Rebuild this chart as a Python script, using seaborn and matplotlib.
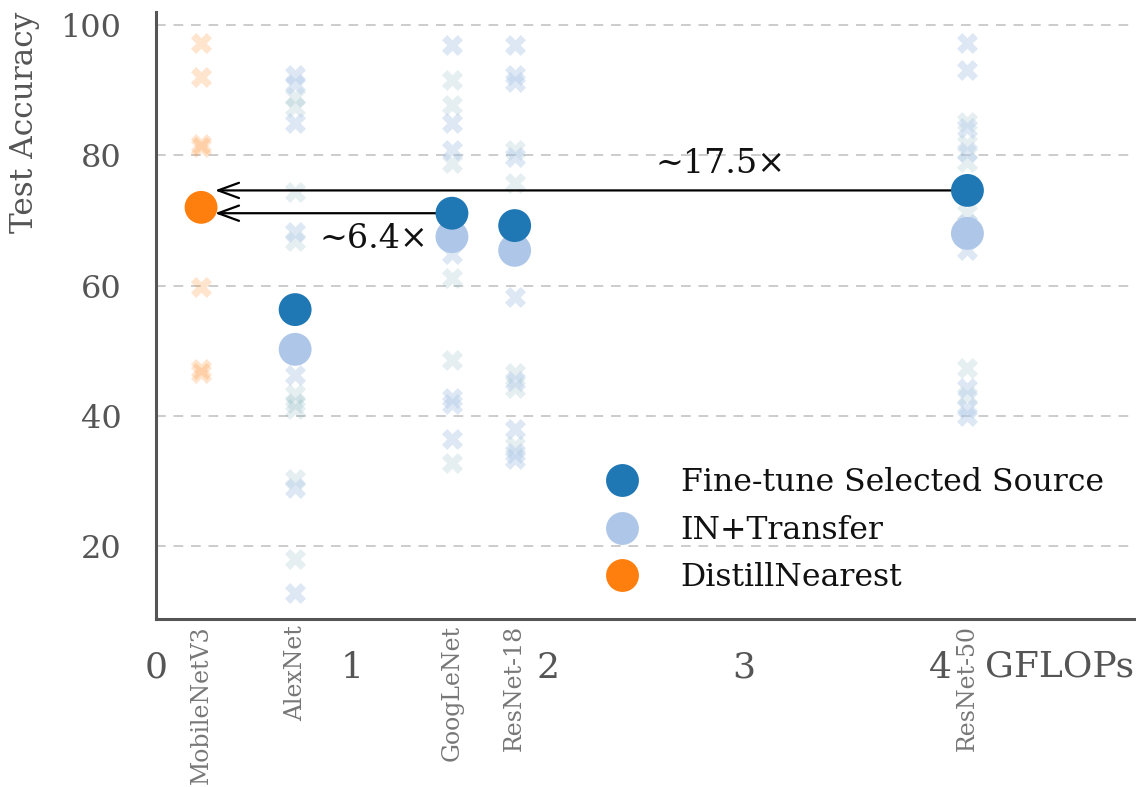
import matplotlib
matplotlib.use("Agg")
import matplotlib.pyplot as plt
import matplotlib.transforms as mtransforms
import pandas as pd
import seaborn as sns

# Target architectures and their compute cost
models = ["MobileNetV3", "AlexNet", "GoogLeNet", "ResNet-18", "ResNet-50"]
gflops = [0.23, 0.71, 1.51, 1.83, 4.14]

# Headline accuracies per method (MobileNetV3 is the distilled student)
finetune_models = ["AlexNet", "GoogLeNet", "ResNet-18", "ResNet-50"]
finetune_acc = [56.3, 71.1, 69.2, 74.6]
in_transfer_acc = [50.2, 67.5, 65.4, 68.0]
distill_model = "MobileNetV3"
distill_acc = 72.0

# Accuracies obtained from individual source models (faint crosses)
src_mobilenet = [97.2, 92.0, 81.8, 81.2, 59.7, 47.2, 46.5]
src_alexnet_a = [88.9, 87.4, 74.3, 66.9, 43.4, 42.0, 41.1, 30.3, 18.0]
src_alexnet_b = [92.3, 91.0, 84.9, 68.2, 46.2, 28.9, 12.8]
src_googlenet_a = [91.5, 87.7, 78.8, 61.2, 48.5, 32.8]
src_googlenet_b = [96.9, 84.9, 80.8, 64.9, 42.8, 41.8, 36.5]
src_resnet18_a = [80.8, 75.8, 44.3, 46.6, 35.4]
src_resnet18_b = [96.9, 92.3, 91.2, 79.7, 58.2, 45.4, 38.0, 34.3, 33.4]
src_resnet50_a = [85.1, 81.8, 78.9, 71.2, 47.4, 43.1]
src_resnet50_b = [97.2, 93.1, 84.2, 80.5, 69.5, 65.4, 44.2, 41.2, 40.0]

speedup_labels = ["~17.5×", "~6.4×"]
speedup_sources = ["ResNet-50", "GoogLeNet"]

method_names = ["Fine-tune Selected Source", "IN+Transfer", "DistillNearest"]
colors = {"Fine-tune Selected Source": "#1f77b4",
          "IN+Transfer": "#aec7e8",
          "DistillNearest": "#ff7f0e"}

flops_of = dict(zip(models, gflops))

sns.set_style("white")
plt.rcParams["font.family"] = ["DejaVu Serif"]

fig = plt.figure(figsize=(11.36, 7.87), dpi=100)
ax = fig.add_axes([0.1373, 0.2135, 0.8627, 0.7713])

# Faint per-source crosses
cross_sets = [
    ("MobileNetV3", src_mobilenet, "#ff7f0e", 0.2),
    ("AlexNet", src_alexnet_a, "#5f9ea8", 0.16),
    ("AlexNet", src_alexnet_b, "#aec7e8", 0.4),
    ("GoogLeNet", src_googlenet_a, "#5f9ea8", 0.16),
    ("GoogLeNet", src_googlenet_b, "#aec7e8", 0.4),
    ("ResNet-18", src_resnet18_a, "#5f9ea8", 0.16),
    ("ResNet-18", src_resnet18_b, "#aec7e8", 0.4),
    ("ResNet-50", src_resnet50_a, "#5f9ea8", 0.16),
    ("ResNet-50", src_resnet50_b, "#aec7e8", 0.4),
]
for name, accs, col, a in cross_sets:
    df_c = pd.DataFrame({"gflops": [flops_of[name]] * len(accs), "acc": accs})
    sns.scatterplot(data=df_c, x="gflops", y="acc", ax=ax, marker="X", s=230,
                    color=col, alpha=a, linewidth=0, legend=False, zorder=2)

# Headline points
rows = []
for m, a in zip(finetune_models, in_transfer_acc):
    rows.append({"gflops": flops_of[m], "acc": a, "method": "IN+Transfer"})
for m, a in zip(finetune_models, finetune_acc):
    rows.append({"gflops": flops_of[m], "acc": a, "method": "Fine-tune Selected Source"})
rows.append({"gflops": flops_of[distill_model], "acc": distill_acc, "method": "DistillNearest"})
df_main = pd.DataFrame(rows)
sns.scatterplot(data=df_main, x="gflops", y="acc", hue="method",
                hue_order=method_names, palette=colors, s=560, linewidth=0,
                ax=ax, zorder=4)

# Speed-up arrows from each source model to the distilled student
acc_of = dict(zip(finetune_models, finetune_acc))
for src in speedup_sources:
    y = acc_of[src]
    ax.annotate("", xy=(flops_of[distill_model], y), xytext=(flops_of[src], y),
                arrowprops=dict(arrowstyle="->, head_length=0.6, head_width=0.22",
                                color="black", lw=1.6, shrinkA=0, shrinkB=10,
                                mutation_scale=25),
                zorder=3)
ax.text(2.88, 78.6, speedup_labels[0], ha="center", va="center",
        fontsize=24, color="#111111", zorder=5)
ax.text(1.11, 67.2, speedup_labels[1], ha="center", va="center",
        fontsize=24, color="#111111", zorder=5)

# Axes styling
ax.set_xlim(0, 5)
ax.set_ylim(8.8, 102)
ax.set_xticks([0, 1, 2, 3, 4])
ax.set_yticks([20, 40, 60, 80, 100])
ax.grid(axis="y", linestyle=(0, (5, 4)), color="#cccccc", linewidth=1.4, zorder=0)
ax.set_axisbelow(True)
for side in ["top", "right"]:
    ax.spines[side].set_visible(False)
for side in ["left", "bottom"]:
    ax.spines[side].set_color("#555555")
    ax.spines[side].set_linewidth(2.2)
ax.tick_params(axis="both", direction="out", length=12, width=1.8,
               color="#555555", labelcolor="#555555")
ax.tick_params(axis="x", labelsize=26, pad=11)
ax.tick_params(axis="y", labelsize=23, pad=13)

ax.set_ylabel("Test Accuracy", loc="top", fontsize=22.5, color="#555555")
ax.yaxis.set_label_coords(-0.118, 1.0)
ax.set_xlabel("GFLOPs", loc="right", fontsize=26, color="#555555")
ax.xaxis.set_label_coords(0.998, -0.05)

# Architecture names under the axis
trans = mtransforms.blended_transform_factory(ax.transData, ax.transAxes)
for m, g in zip(models, gflops):
    ax.text(g, -0.01, m, transform=trans, rotation=90, ha="center", va="top",
            fontsize=17, color="#777777")

leg = ax.legend(loc="upper left", bbox_to_anchor=(0.443, 0.25), frameon=False,
                fontsize=22.7, handlelength=2.0, handletextpad=0.87,
                labelspacing=0.52, borderpad=0, borderaxespad=0)
for t in leg.get_texts():
    t.set_color("#111111")

fig.savefig("out.png", dpi=100)
